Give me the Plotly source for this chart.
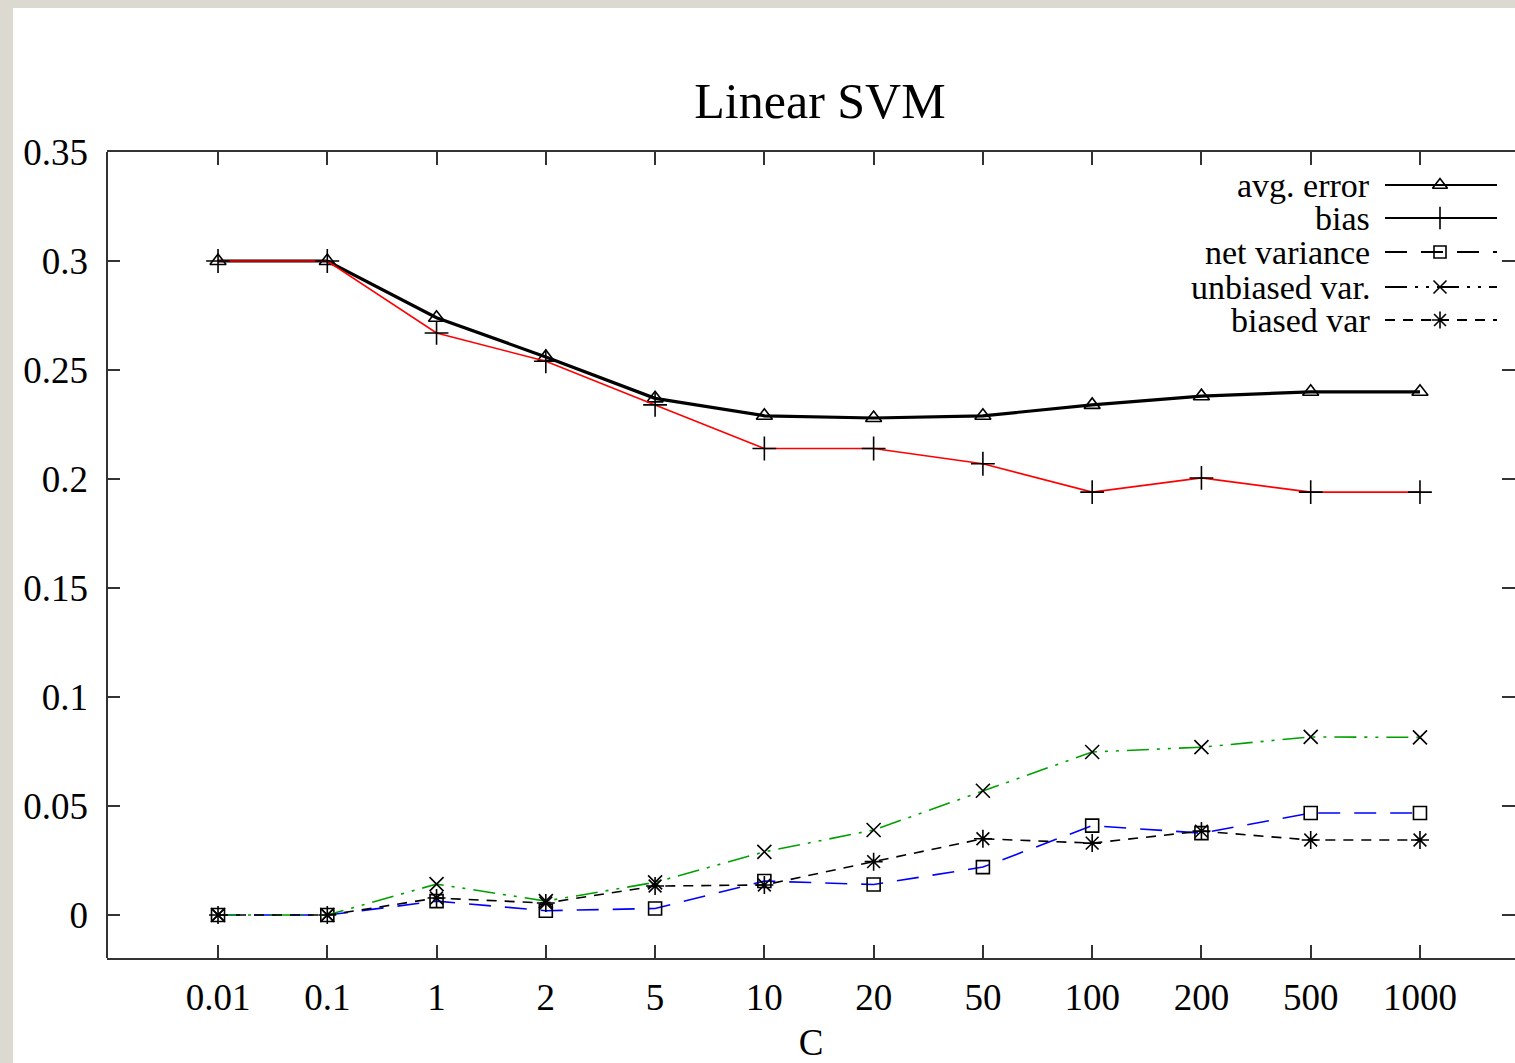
import plotly.graph_objects as go

categories = ["0.01", "0.1", "1", "2", "5", "10", "20", "50", "100", "200", "500", "1000"]
avg_error = [0.300, 0.300, 0.274, 0.256, 0.237, 0.229, 0.228, 0.229, 0.234, 0.238, 0.240, 0.240]
bias = [0.300, 0.300, 0.267, 0.254, 0.234, 0.214, 0.214, 0.207, 0.194, 0.2005, 0.194, 0.194]
net_variance = [0.0, 0.0, 0.0064, 0.002, 0.003, 0.0156, 0.014, 0.022, 0.041, 0.0376, 0.0468, 0.0468]
unbiased_var = [0.0, 0.0, 0.0142, 0.0064, 0.015, 0.029, 0.039, 0.057, 0.0748, 0.077, 0.0817, 0.0815]
biased_var = [0.0, 0.0, 0.0078, 0.0055, 0.0133, 0.0138, 0.0245, 0.035, 0.033, 0.0385, 0.0344, 0.0344]
series_names = ["avg. error", "bias", "net variance", "unbiased var.", "biased var"]
y_ticks = [0, 0.05, 0.1, 0.15, 0.2, 0.25, 0.3, 0.35]
y_tick_text = ["0", "0.05", "0.1", "0.15", "0.2", "0.25", "0.3", "0.35"]

FONT = "Liberation Serif"
W, H = 1515, 1063
L, R, T, B = 107, 1515, 152, 958

styles = [
    dict(line=dict(color="black", width=3.2), sym="triangle-up-open", size=14),
    dict(line=dict(color="#ff0000", width=1.6), sym="cross-thin-open", size=17),
    dict(line=dict(color="#0000ff", width=1.6, dash="22px,14px"), sym="square-open", size=13),
    dict(line=dict(color="#00a000", width=1.6, dash="22px,8px,3px,8px,3px,8px"), sym="x-thin-open", size=14),
    dict(line=dict(color="black", width=1.6, dash="10px,8px"), sym="asterisk-open", size=15),
]
series = [avg_error, bias, net_variance, unbiased_var, biased_var]

fig = go.Figure()
x_idx = list(range(len(categories)))
for name, vals, st in zip(series_names, series, styles):
    fig.add_trace(go.Scatter(
        x=x_idx, y=vals, mode="lines+markers", name=name, showlegend=False,
        line=st["line"],
        marker=dict(symbol=st["sym"], size=st["size"], color="black",
                    line=dict(color="black", width=1.6)),
    ))

# legend samples (gnuplot style: text on left, black sample on right), in pixel-space axes
rows_px = [185, 218, 252, 287, 320]
for name, st, ry in zip(series_names, styles, rows_px):
    lw = dict(st["line"])
    lw["color"] = "black"
    lw["width"] = 2.0
    fig.add_trace(go.Scatter(
        x=[1385, 1497], y=[ry, ry], mode="lines", line=lw, showlegend=False,
        xaxis="x2", yaxis="y2", hoverinfo="skip"))
    fig.add_trace(go.Scatter(
        x=[1440], y=[ry], mode="markers", showlegend=False, xaxis="x2", yaxis="y2",
        marker=dict(symbol=st["sym"], size=st["size"] - 1, color="black",
                    line=dict(color="black", width=1.6)), hoverinfo="skip"))
    fig.add_annotation(x=1372, y=ry, xref="x2", yref="y2", text=name, showarrow=False,
                       xanchor="right", yanchor="middle",
                       font=dict(family=FONT, size=34, color="black"))

pw, ph = R - L, B - T
fig.add_shape(type="rect", xref="paper", yref="paper",
              x0=(13 - L) / pw, x1=(W + 10 - L) / pw,
              y0=(B - (H + 10)) / ph, y1=(B - 8) / ph,
              fillcolor="white", line=dict(width=0), layer="below")
# left border line
fig.add_shape(type="line", xref="paper", yref="paper", x0=0, x1=0, y0=0, y1=1,
              line=dict(color="#333333", width=2))

fig.update_layout(
    width=W, height=H,
    margin=dict(l=L, r=W - R, t=T, b=H - B, pad=0),
    paper_bgcolor="#dcd9d1", plot_bgcolor="white",
    font=dict(family=FONT, size=37, color="black"),
    title=dict(text="Linear SVM", x=820 / W, y=1 - 100 / H, xanchor="center", yanchor="middle",
               font=dict(family=FONT, size=50, color="black")),
    xaxis=dict(range=[-1.016, (R - 218) / 109.27], tickvals=x_idx, ticktext=categories,
               showgrid=False, zeroline=False, showline=True, linecolor="#333333", linewidth=2,
               mirror="ticks", ticks="inside", ticklen=13, tickwidth=2, tickcolor="#333333",
               ticklabelstandoff=6,
               title=dict(text="C", standoff=12, font=dict(family=FONT, size=37))),
    yaxis=dict(range=[-0.0197, 0.35], tickvals=y_ticks, ticktext=y_tick_text,
               showgrid=False, zeroline=False, showline=False,
               mirror="ticks", ticks="inside", ticklen=13, tickwidth=2, tickcolor="#333333",
               ticklabelstandoff=18),
    xaxis2=dict(range=[L, R], overlaying="x", visible=False),
    yaxis2=dict(range=[B, T], overlaying="y", visible=False),
)

fig.write_html("out.html")
